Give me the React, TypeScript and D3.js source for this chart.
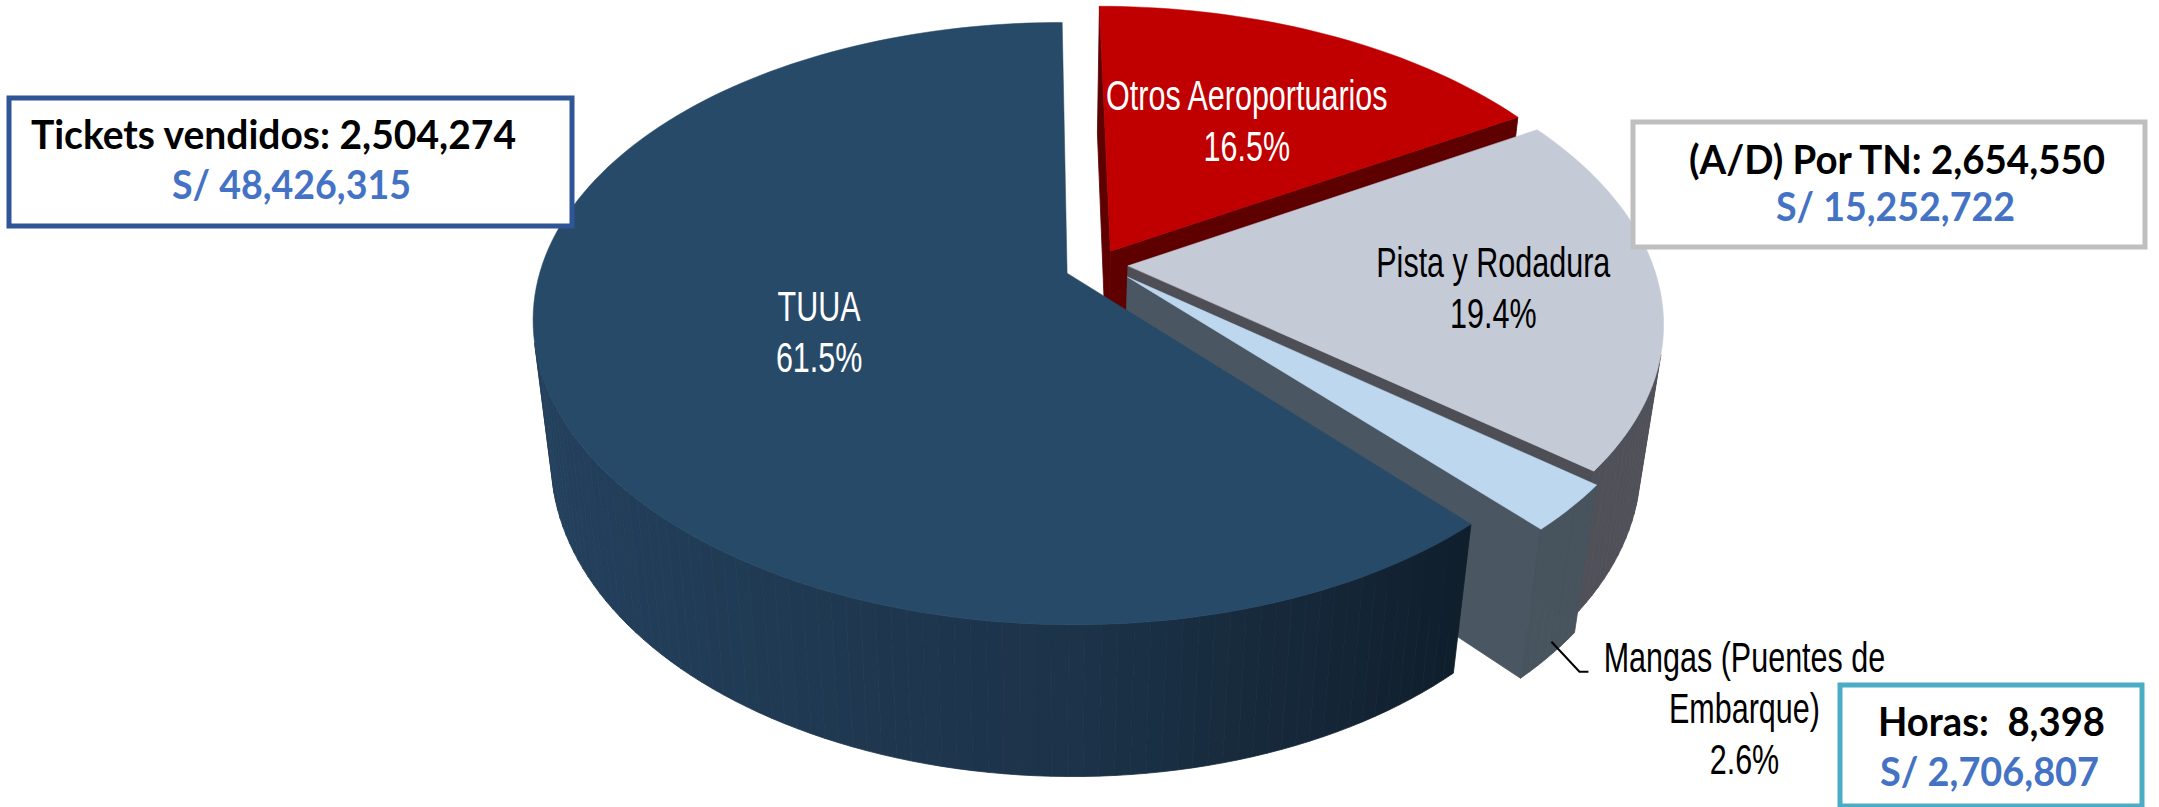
import * as d3 from "d3";

// pie data (share of revenue, %)
const categories = ["Otros Aeroportuarios", "Pista y Rodadura", "Mangas (Puentes de Embarque)", "TUUA"];
const shares = [16.5, 19.4, 2.6, 61.5];
const labelLines = [["Otros Aeroportuarios"], ["Pista y Rodadura"], ["Mangas (Puentes de", "Embarque)"], ["TUUA"]];

// call-out boxes
const boxTitles = ["Tickets vendidos: 2,504,274", "(A/D) Por TN: 2,654,550", "Horas:  8,398"];
const boxAmounts = ["S/ 48,426,315", "S/ 15,252,722", "S/ 2,706,807"];

const W = 2159, H = 807;

// perspective camera for the 3D pie (units: pie radius)
const PX = 1110, PY = 265;   // screen position of the pie centre
const S = 525;               // radius in px at the centre depth
const K = 290;               // vertical radius in px at the centre depth
const sinA = K / S, cosA = Math.sqrt(1 - sinA * sinA);
const DIST = 6 * cosA;       // camera distance
const CAMX = -0.147;         // camera sits a bit to the left
const THICK = 0.33;
const XC = PX + S * CAMX;
const cam = [CAMX, DIST * sinA, DIST * cosA];

const proj = (x: number, y: number, z: number) => {
  const u = y * cosA - z * sinA;
  const w = DIST - z * cosA - y * sinA;
  return [XC + S * (x - CAMX) * DIST / w, PY - S * u * DIST / w, w];
};

const styles = [
  { top: "#c00000", wall: ["#6a0000", "#600000", "#580000"], cut: "#5e0000", off: [0.002, -0.048], labelR: 0.6, color: "#ffffff" },
  { top: "#c4cad6", wall: ["#5a5b63", "#53545c", "#4f5058"], cut: "#4d4e56", off: [0.034, 0.003], labelR: 0.69, color: "#000000" },
  { top: "#bdd7ee", wall: ["#4d5a65", "#4a5661", "#47535d"], cut: "#4a5661", off: [0.032, 0.041], labelR: 0.7, color: "#000000" },
  { top: "#274a69", wall: ["#24415e", "#1c3349", "#0f1d2a"], cut: "#1b3048", off: [-0.082, 0.028], labelR: 0.49, color: "#ffffff" },
];

const labelFont = "'Liberation Sans', Arial, sans-serif";
const boxFont = "Lato, 'Open Sans', sans-serif";

const App = () => {
  const arcs = d3.pie<number>().sort(null).value(d => d)(shares);
  const fmt = d3.format(".1f");

  const walls: { pts: number[][]; depth: number; fill: string }[] = [];
  const tops: { pts: number[][]; fill: string }[] = [];
  const labels: any[] = [];
  let leader: number[][] | null = null;

  arcs.forEach((a, i) => {
    const st = styles[i];
    const a0 = a.startAngle, a1 = a.endAngle;
    const mid = (a0 + a1) / 2;
    const [ox, oz] = st.off;
    const rim = (t: number, y: number, r = 1) => proj(ox + r * Math.sin(t), y, oz - r * Math.cos(t));
    const visible = (n: number[], p: number[]) =>
      n[0] * (cam[0] - p[0]) + n[1] * (cam[1] - p[1]) + n[2] * (cam[2] - p[2]) > 0;
    const wallColor = d3.scaleLinear<string>().domain([-1, 0, 0.7]).range(st.wall).clamp(true);

    const n = Math.max(4, Math.ceil((a1 - a0) / (Math.PI / 120)));
    const angles = d3.range(n + 1).map(k => a0 + (a1 - a0) * k / n);

    // top face
    tops.push({ pts: [proj(ox, 0, oz), ...angles.map(t => rim(t, 0))], fill: st.top });

    // outer wall, split in small strips
    for (let k = 0; k < n; k++) {
      const t0 = angles[k], t1 = angles[k + 1], m = (t0 + t1) / 2;
      const nrm = [Math.sin(m), 0, -Math.cos(m)];
      const p = [ox + Math.sin(m), -THICK / 2, oz - Math.cos(m)];
      if (!visible(nrm, p)) continue;
      walls.push({
        pts: [rim(t0, 0), rim(t1, 0), rim(t1, -THICK), rim(t0, -THICK)],
        depth: proj(p[0], p[1], p[2])[2],
        fill: wallColor(nrm[0]),
      });
    }

    // cut faces at both edges of the slice
    [[a0, [-Math.cos(a0), 0, -Math.sin(a0)]], [a1, [Math.cos(a1), 0, Math.sin(a1)]]].forEach(([t, nrm]: any) => {
      const p = [ox + 0.5 * Math.sin(t), -THICK / 2, oz - 0.5 * Math.cos(t)];
      if (!visible(nrm, p)) return;
      walls.push({
        pts: [proj(ox, 0, oz), rim(t, 0), rim(t, -THICK), proj(ox, -THICK, oz)],
        depth: proj(p[0], p[1], p[2])[2],
        fill: st.cut,
      });
    });

    const pct = fmt(shares[i]) + "%";
    const lines = [...labelLines[i], pct];
    if (shares[i] < 5) {
      // small slice: label outside with a leader line
      const p0 = rim(mid, -THICK * 0.9, 1.0);
      const p1 = [p0[0] + 28, p0[1] + 30];
      const p2 = [p1[0] + 9, p1[1]];
      leader = [p0, p1, p2];
      lines.forEach((txt, j) => {
        labels.push({ x: p2[0] + 156, y: p2[1] + j * 51, txt, color: "#000", base: "alphabetic" });
      });
    } else {
      const c = rim(mid, 0, st.labelR);
      lines.forEach((txt, j) => {
        labels.push({ x: c[0], y: c[1] + 6 + (j - (lines.length - 1) / 2) * 51, txt, color: st.color, base: "central" });
      });
    }
  });

  walls.sort((p, q) => q.depth - p.depth);
  const line = d3.line();
  const poly = (pts: number[][]) => line(pts.map(p => [p[0], p[1]]) as [number, number][]) + "Z";

  const boxes = [
    { x: 9, y: 98, w: 563, h: 128, stroke: "#2f5597", t1: [31, 149, 485], t2: [172, 199, 239] },
    { x: 1633, y: 122, w: 512, h: 125, stroke: "#bfbfbf", t1: [1689, 174, 416], t2: [1776, 221, 239] },
    { x: 1840, y: 685, w: 302, h: 121, stroke: "#4bacc6", t1: [1878, 736, 227], t2: [1880, 786, 219] },
  ];

  return (
    <svg width={W} height={H} style={{ position: "absolute", left: 0, top: 0, background: "#fff" }}>
      <g>
        {walls.map((f, i) => (
          <path key={"w" + i} d={poly(f.pts)} fill={f.fill} stroke={f.fill} strokeWidth={0.8} strokeLinejoin="round" />
        ))}
        {tops.map((f, i) => (
          <path key={"t" + i} d={poly(f.pts)} fill={f.fill} stroke={f.fill} strokeWidth={0.5} />
        ))}
      </g>
      {leader && (
        <polyline points={(leader as number[][]).map(p => p[0] + "," + p[1]).join(" ")} fill="none" stroke="#000" strokeWidth={2} />
      )}
      <g fontFamily={labelFont} fontSize={43}>
        {labels.map((l, i) => (
          <text key={"l" + i} transform={`translate(${l.x},${l.y}) scale(0.71,1)`} fill={l.color}
            textAnchor="middle" dominantBaseline={l.base}>{l.txt}</text>
        ))}
      </g>
      <g fontFamily={boxFont} fontWeight={700} fontSize={41}>
        {boxes.map((b, i) => (
          <g key={"b" + i}>
            <rect x={b.x} y={b.y} width={b.w} height={b.h} fill="#fff" stroke={b.stroke} strokeWidth={5} />
            <text x={b.t1[0]} y={b.t1[1]} textLength={b.t1[2]} lengthAdjust="spacingAndGlyphs" fill="#000"
              xmlSpace="preserve" style={{ whiteSpace: "pre" }}>{boxTitles[i]}</text>
            <text x={b.t2[0]} y={b.t2[1]} textLength={b.t2[2]} lengthAdjust="spacingAndGlyphs" fill="#4472c4">{boxAmounts[i]}</text>
          </g>
        ))}
      </g>
    </svg>
  );
};

export default App;
